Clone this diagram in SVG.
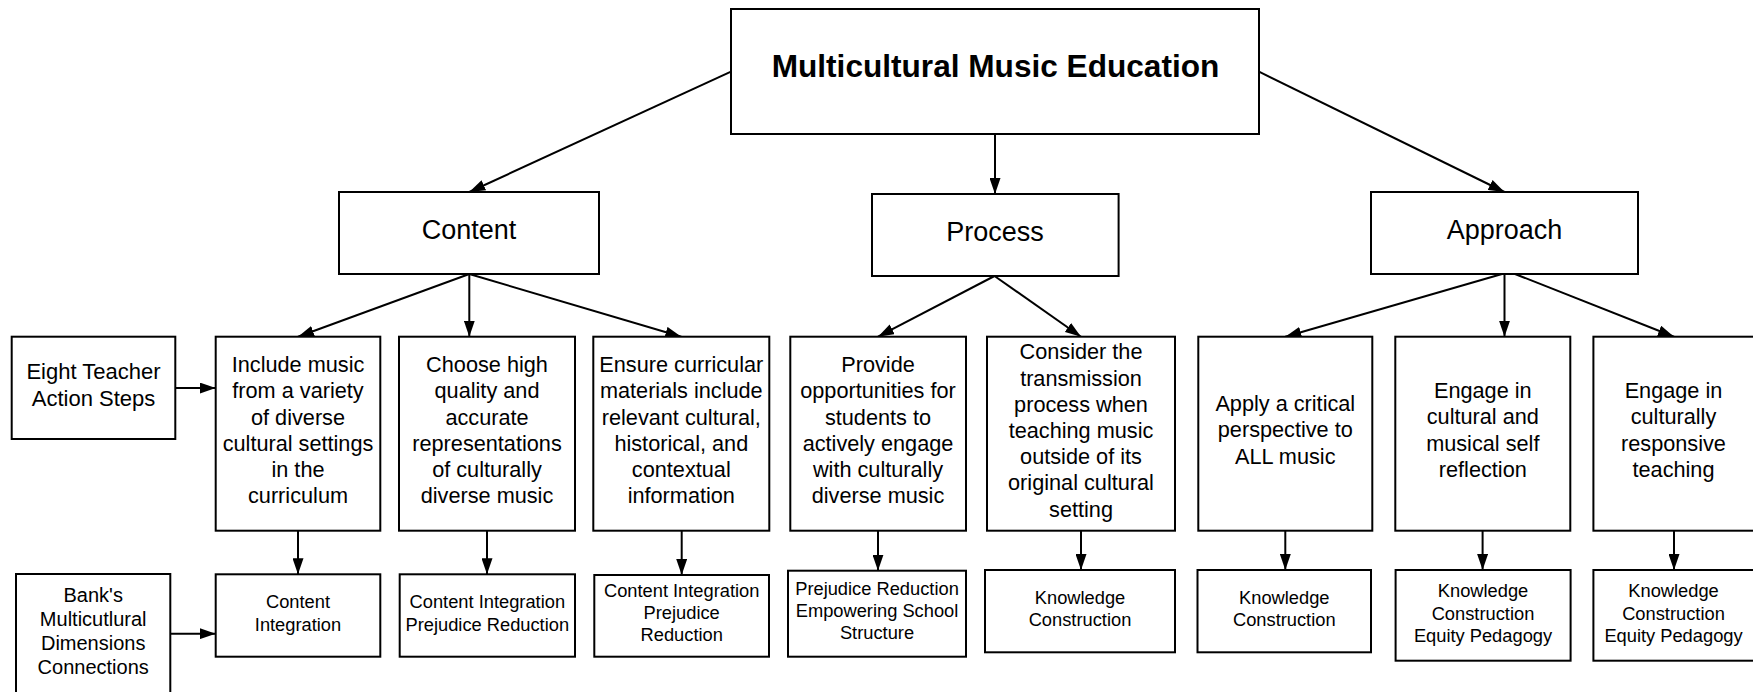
<svg xmlns="http://www.w3.org/2000/svg" width="1753" height="692" viewBox="0 0 1753 692">
  <defs>
    <style>
      .box { fill: #ffffff; stroke: #000000; stroke-width: 2; }
      .link { fill: none; stroke: #000000; stroke-width: 2; marker-end: url(#arrow); }
      text { font-family: "Liberation Sans", Arial, sans-serif; fill: #000000; text-anchor: middle; }
      .title { font-size: 31.6px; font-weight: bold; }
      .head { font-size: 27px; }
      .step { font-size: 21.7px; }
      .side { font-size: 22px; }
      .bank { font-size: 20px; }
      .dim { font-size: 18.3px; }
    </style>
    <marker id="arrow" markerUnits="userSpaceOnUse" markerWidth="16" markerHeight="11" refX="16" refY="5.5" orient="auto">
      <path d="M0,0 L16,5.5 L0,11 Z" fill="#000000"/>
    </marker>
  </defs>

  <rect width="1753" height="692" fill="#ffffff"/>

  <!-- connectors -->
  <g id="connectors">
    <path class="link" d="M731,71.7 L469.3,192"/>
    <path class="link" d="M995,134 L995,194"/>
    <path class="link" d="M1259,71.7 L1504.5,192"/>
    <path class="link" d="M469.3,274 L298,336.7"/>
    <path class="link" d="M469.3,274 L469.3,336.7"/>
    <path class="link" d="M469.3,274 L681.3,336.7"/>
    <path class="link" d="M994.5,276 L878,336.7"/>
    <path class="link" d="M994.5,276 L1081,336.7"/>
    <path class="link" d="M1502,274 L1285.3,336.7"/>
    <path class="link" d="M1504.5,274 L1504.5,336.7"/>
    <path class="link" d="M1515,274 L1674,336.7"/>
    <path class="link" d="M175.3,388 L215.7,388"/>
    <path class="link" d="M170.3,633.7 L215.7,633.7"/>
    <path class="link" d="M298,530.7 L298,574.3"/>
    <path class="link" d="M487,530.7 L487,574.3"/>
    <path class="link" d="M681.7,530.7 L681.7,575"/>
    <path class="link" d="M878,530.7 L878,570.7"/>
    <path class="link" d="M1081,530.7 L1081,570"/>
    <path class="link" d="M1285.3,530.7 L1285.3,570"/>
    <path class="link" d="M1482.6,530.7 L1482.6,570"/>
    <path class="link" d="M1674,530.7 L1674,570"/>
  </g>

  <!-- root -->
  <g id="root">
    <rect class="box" x="731" y="9" width="528" height="125"/>
    <text class="title" x="995.5" y="76.7">Multicultural Music Education</text>
  </g>

  <!-- dimensions -->
  <g id="content">
    <rect class="box" x="339" y="192" width="260" height="82"/>
    <text class="head" x="469" y="238.7">Content</text>
  </g>
  <g id="process">
    <rect class="box" x="872" y="194" width="246.6" height="82"/>
    <text class="head" x="995" y="240.7">Process</text>
  </g>
  <g id="approach">
    <rect class="box" x="1371" y="192" width="267" height="82"/>
    <text class="head" x="1504.5" y="238.7">Approach</text>
  </g>

  <!-- row labels -->
  <g id="label-steps">
    <rect class="box" x="11.7" y="336.7" width="163.6" height="102.3"/>
    <text class="side"><tspan x="93.5" y="379.3">Eight Teacher</tspan><tspan x="93.5" y="406">Action Steps</tspan></text>
  </g>
  <g id="label-banks">
    <rect class="box" x="16" y="574" width="154.3" height="135"/>
    <text class="bank"><tspan x="93.2" y="601.7">Bank's</tspan><tspan x="93.2" y="625.9">Multicutlural</tspan><tspan x="93.2" y="650.1">Dimensions</tspan><tspan x="93.2" y="674.3">Connections</tspan></text>
  </g>

  <!-- teacher action steps -->
  <g id="step-1">
    <rect class="box" x="215.7" y="336.7" width="164.6" height="194"/>
    <text class="step"><tspan x="298" y="372.3">Include music</tspan><tspan x="298" y="398.4">from a variety</tspan><tspan x="298" y="424.5">of diverse</tspan><tspan x="298" y="450.6">cultural settings</tspan><tspan x="298" y="476.7">in the</tspan><tspan x="298" y="502.8">curriculum</tspan></text>
  </g>
  <g id="step-2">
    <rect class="box" x="399" y="336.7" width="176" height="194"/>
    <text class="step"><tspan x="487" y="372.3">Choose high</tspan><tspan x="487" y="398.4">quality and</tspan><tspan x="487" y="424.5">accurate</tspan><tspan x="487" y="450.6">representations</tspan><tspan x="487" y="476.7">of culturally</tspan><tspan x="487" y="502.8">diverse music</tspan></text>
  </g>
  <g id="step-3">
    <rect class="box" x="593.3" y="336.7" width="176" height="194"/>
    <text class="step"><tspan x="681.3" y="372.3">Ensure curricular</tspan><tspan x="681.3" y="398.4">materials include</tspan><tspan x="681.3" y="424.5">relevant cultural,</tspan><tspan x="681.3" y="450.6">historical, and</tspan><tspan x="681.3" y="476.7">contextual</tspan><tspan x="681.3" y="502.8">information</tspan></text>
  </g>
  <g id="step-4">
    <rect class="box" x="790.3" y="336.7" width="175.7" height="194"/>
    <text class="step"><tspan x="878" y="372.3">Provide</tspan><tspan x="878" y="398.4">opportunities for</tspan><tspan x="878" y="424.5">students to</tspan><tspan x="878" y="450.6">actively engage</tspan><tspan x="878" y="476.7">with culturally</tspan><tspan x="878" y="502.8">diverse music</tspan></text>
  </g>
  <g id="step-5">
    <rect class="box" x="987" y="336.7" width="188" height="194"/>
    <text class="step"><tspan x="1081" y="359.3">Consider the</tspan><tspan x="1081" y="385.5">transmission</tspan><tspan x="1081" y="411.7">process when</tspan><tspan x="1081" y="437.9">teaching music</tspan><tspan x="1081" y="464.1">outside of its</tspan><tspan x="1081" y="490.3">original cultural</tspan><tspan x="1081" y="516.5">setting</tspan></text>
  </g>
  <g id="step-6">
    <rect class="box" x="1198.3" y="336.7" width="174" height="194"/>
    <text class="step"><tspan x="1285.3" y="410.5">Apply a critical</tspan><tspan x="1285.3" y="437.3">perspective to</tspan><tspan x="1285.3" y="464.1">ALL music</tspan></text>
  </g>
  <g id="step-7">
    <rect class="box" x="1395.3" y="336.7" width="175" height="194"/>
    <text class="step"><tspan x="1482.8" y="398.3">Engage in</tspan><tspan x="1482.8" y="424.4">cultural and</tspan><tspan x="1482.8" y="450.5">musical self</tspan><tspan x="1482.8" y="476.6">reflection</tspan></text>
  </g>
  <g id="step-8">
    <rect class="box" x="1593.4" y="336.7" width="175" height="194"/>
    <text class="step"><tspan x="1673.5" y="398.3">Engage in</tspan><tspan x="1673.5" y="424.4">culturally</tspan><tspan x="1673.5" y="450.5">responsive</tspan><tspan x="1673.5" y="476.6">teaching</tspan></text>
  </g>

  <!-- Banks dimension connections -->
  <g id="dim-1">
    <rect class="box" x="215.7" y="574.3" width="164.6" height="82.4"/>
    <text class="dim"><tspan x="298" y="608.3">Content</tspan><tspan x="298" y="630.7">Integration</tspan></text>
  </g>
  <g id="dim-2">
    <rect class="box" x="399.7" y="574.3" width="175.3" height="82.4"/>
    <text class="dim"><tspan x="487.3" y="608.3">Content Integration</tspan><tspan x="487.3" y="630.7">Prejudice Reduction</tspan></text>
  </g>
  <g id="dim-3">
    <rect class="box" x="594.3" y="575" width="174.7" height="81.7"/>
    <text class="dim"><tspan x="681.7" y="596.7">Content Integration</tspan><tspan x="681.7" y="618.9">Prejudice</tspan><tspan x="681.7" y="641.1">Reduction</tspan></text>
  </g>
  <g id="dim-4">
    <rect class="box" x="788" y="570.7" width="178" height="86"/>
    <text class="dim"><tspan x="877" y="595">Prejudice Reduction</tspan><tspan x="877" y="617.2">Empowering School</tspan><tspan x="877" y="639.4">Structure</tspan></text>
  </g>
  <g id="dim-5">
    <rect class="box" x="985" y="570" width="190" height="82.3"/>
    <text class="dim"><tspan x="1080" y="604">Knowledge</tspan><tspan x="1080" y="626">Construction</tspan></text>
  </g>
  <g id="dim-6">
    <rect class="box" x="1197.5" y="570" width="173.5" height="82.3"/>
    <text class="dim"><tspan x="1284.3" y="604">Knowledge</tspan><tspan x="1284.3" y="626">Construction</tspan></text>
  </g>
  <g id="dim-7">
    <rect class="box" x="1395.6" y="570" width="175" height="90.7"/>
    <text class="dim"><tspan x="1483" y="597.3">Knowledge</tspan><tspan x="1483" y="619.5">Construction</tspan><tspan x="1483" y="641.7">Equity Pedagogy</tspan></text>
  </g>
  <g id="dim-8">
    <rect class="box" x="1593.4" y="570" width="175" height="90.7"/>
    <text class="dim"><tspan x="1673.5" y="597.3">Knowledge</tspan><tspan x="1673.5" y="619.5">Construction</tspan><tspan x="1673.5" y="641.7">Equity Pedagogy</tspan></text>
  </g>
</svg>
